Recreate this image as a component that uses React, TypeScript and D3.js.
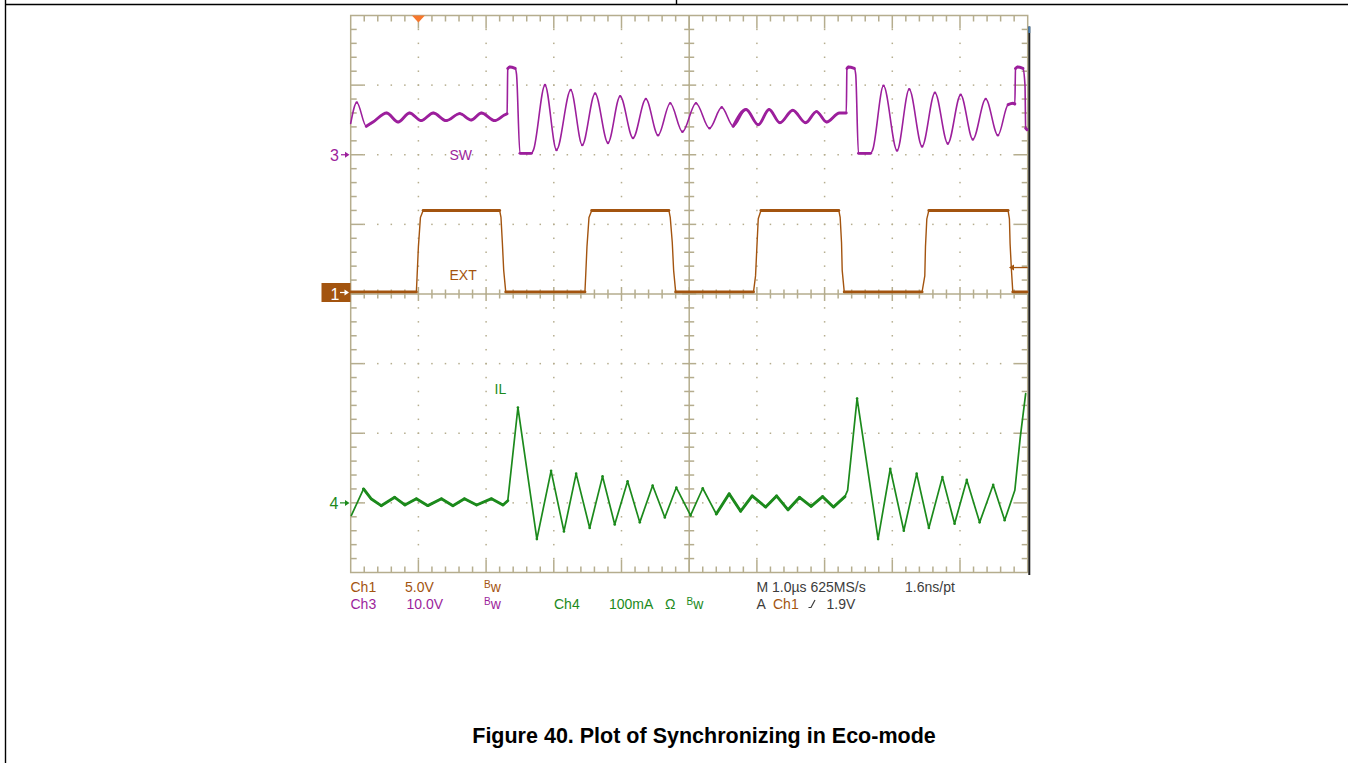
import React from 'react';
import * as d3 from 'd3';

// ---------- data (time in µs, values in channel units) ----------
// Ch3 SW node, volts (10 V/div, ground marker at +2 div)
const SW_TRACE: [number, number][] = [
  [0.00, 4.5], [0.09, 7.5], [0.23, 4.1], [0.33, 4.7], [0.53, 6.0], [0.70, 4.7], [0.87, 6.0],
  [1.04, 4.9], [1.22, 6.0], [1.41, 4.9], [1.61, 5.9], [1.78, 5.0], [1.93, 6.0], [2.13, 4.9],
  [2.27, 5.7], [2.31, 5.9], [2.32, 12.4], [2.35, 12.6], [2.43, 12.4], [2.45, 11.5], [2.50, 0.2],
  [2.67, 0.2], [2.70, 0.7], [2.87, 10.0], [3.04, 0.7], [3.25, 9.3], [3.42, 1.4], [3.61, 8.8],
  [3.80, 1.7], [3.98, 8.4], [4.17, 2.4], [4.36, 8.0], [4.54, 2.8], [4.72, 7.4], [4.90, 3.3],
  [5.10, 7.4], [5.30, 3.8], [5.48, 6.8], [5.65, 4.1], [5.84, 6.5], [6.02, 4.3], [6.18, 6.5],
  [6.34, 4.6], [6.53, 6.4], [6.72, 4.6], [6.88, 6.2], [7.03, 4.7], [7.22, 6.0], [7.32, 6.0],
  [7.33, 12.4], [7.35, 12.6], [7.44, 12.4], [7.46, 11.5], [7.50, 0.2], [7.68, 0.2], [7.71, 0.7],
  [7.87, 9.9], [8.07, 0.6], [8.25, 9.4], [8.44, 1.2], [8.63, 8.9], [8.82, 1.6], [9.01, 8.6],
  [9.19, 2.2], [9.38, 8.0], [9.56, 2.8], [9.71, 7.2], [9.78, 7.4], [9.81, 7.3], [9.82, 12.4],
  [9.85, 12.6], [9.93, 12.4], [9.96, 10.0], [9.97, 3.8], [9.99, 3.6],
];

// Ch1 EXT sync clock, volts (5 V/div, ground at centre)
const EXT_TRACE: [number, number][] = [
  [0.00, 0.15], [0.97, 0.15], [0.98, 1.2], [1.00, 3.4], [1.03, 5.5], [1.07, 6.0],
  [2.20, 6.0], [2.22, 5.5], [2.24, 3.7], [2.26, 1.7], [2.29, 0.15],
  [3.46, 0.15], [3.47, 1.2], [3.49, 3.4], [3.52, 5.5], [3.56, 6.0],
  [4.70, 6.0], [4.72, 5.5], [4.75, 3.7], [4.77, 1.7], [4.80, 0.15],
  [5.95, 0.15], [5.98, 1.3], [6.00, 3.4], [6.02, 5.4], [6.06, 6.0],
  [7.21, 6.0], [7.23, 5.5], [7.25, 3.7], [7.26, 1.7], [7.29, 0.15],
  [8.44, 0.15], [8.48, 1.3], [8.49, 3.4], [8.51, 5.4], [8.54, 6.0],
  [9.71, 6.0], [9.73, 5.4], [9.74, 3.6], [9.76, 1.7], [9.78, 0.15], [9.99, 0.15],
];

// Ch4 inductor current IL, mA (100 mA/div, ground marker at -3 div)
const IL_TRACE: [number, number][] = [
  [0.01, -18], [0.19, 20], [0.30, 6], [0.45, -4], [0.65, 8], [0.80, -3], [0.97, 6], [1.14, -4],
  [1.34, 6], [1.51, -4], [1.68, 6], [1.86, -3], [2.08, 6], [2.25, -3], [2.32, 3], [2.47, 137],
  [2.75, -52], [2.96, 46], [3.15, -41], [3.33, 42], [3.53, -36], [3.72, 38], [3.90, -31],
  [4.09, 31], [4.27, -28], [4.46, 25], [4.64, -21], [4.81, 22], [5.02, -18], [5.20, 21],
  [5.40, -16], [5.59, 13], [5.76, -12], [5.93, 10], [6.13, -6], [6.29, 10], [6.46, -10],
  [6.63, 8], [6.80, -5], [6.97, 9], [7.13, -6], [7.30, 9], [7.34, 18], [7.48, 150],
  [7.79, -52], [7.97, 49], [8.17, -40], [8.36, 42], [8.54, -36], [8.74, 37], [8.92, -30],
  [9.10, 33], [9.29, -28], [9.49, 26], [9.66, -25], [9.81, 18], [9.89, 94], [9.97, 157],
];

const TIME_DOMAIN_US: [number, number] = [0, 10];
const DIV_DOMAIN: [number, number] = [-4, 4];
const SW_DOMAIN_V: [number, number] = [-60, 20];
const EXT_DOMAIN_V: [number, number] = [-20, 20];
const IL_DOMAIN_MA: [number, number] = [-100, 700];

const TRIGGER_TIME_US = 1.0;
const TRIGGER_LEVEL_V = 1.9;

const TITLE = 'Figure 40. Plot of Synchronizing in Eco-mode';
const TRACE_LABELS = ['SW', 'EXT', 'IL'];
const CH_MARKERS = ['3', '1', '4'];
const ROW1 = ['Ch1', '5.0V'];
const ROW2 = ['Ch3', '10.0V', 'Ch4', '100mA', 'Ω'];
const TIMEBASE = ['M 1.0µs 625MS/s', '1.6ns/pt'];
const TRIG_TEXT = ['A', 'Ch1', '1.9V'];

const C = {
  grid: '#b5ad8e',
  sw: '#9c1f9c',
  ext: '#a3540f',
  il: '#1c8a1c',
  text: '#3c3c3c',
  trig: '#f7772c',
};

const FONT = "'Liberation Sans', Arial, sans-serif";

type Pt = [number, number];

function Trace({ pts, xs, ys, color, curve, thr, base }: {
  pts: Pt[]; xs: (v: number) => number; ys: (v: number) => number; color: string; curve: any; thr: number; base: number;
}) {
  const line = d3.line<Pt>().x(d => xs(d[0])).y(d => ys(d[1])).curve(curve);
  const runs: number[][] = [];
  let cur: number[] | null = null;
  for (let i = 0; i < pts.length - 1; i++) {
    const dx = xs(pts[i + 1][0]) - xs(pts[i][0]);
    const dy = ys(pts[i + 1][1]) - ys(pts[i][1]);
    const flat = Math.abs(dy) < thr * Math.abs(dx);
    if (flat) {
      if (!cur) { cur = [i]; runs.push(cur); }
      cur.push(i + 1);
    } else cur = null;
  }
  // local extrema get a small noisy blob, as on the scope display
  const extrema = pts.filter((p, i) => i > 0 && i < pts.length - 1 &&
    (p[1] - pts[i - 1][1]) * (pts[i + 1][1] - p[1]) < 0);
  return (
    <g fill="none" stroke={color} strokeLinejoin="round" strokeLinecap="round">
      <path d={line(pts) || ''} strokeWidth={base} />
      {runs.map((r, k) => (
        <path key={k} d={line(r.map(i => pts[i])) || ''} strokeWidth={2.9} />
      ))}
      {extrema.map((p, k) => (
        <circle key={`e${k}`} cx={xs(p[0])} cy={ys(p[1])} r={1.3} fill={color} stroke="none" />
      ))}
    </g>
  );
}

function Arrow({ x1, x2, y, color }: { x1: number; x2: number; y: number; color: string }) {
  return (
    <g>
      <line x1={x1} y1={y} x2={x2 - 3} y2={y} stroke={color} strokeWidth={1.2} />
      <path d={`M${x2},${y} L${x2 - 4.5},${y - 3} L${x2 - 4.5},${y + 3} Z`} fill={color} />
    </g>
  );
}

export default function App() {
  const L = 350.7, R = 1027.7, T = 15.5, B = 572.5;
  const x = d3.scaleLinear().domain(TIME_DOMAIN_US).range([L, R]);
  const yDiv = d3.scaleLinear().domain(DIV_DOMAIN).range([B, T]);
  const ySW = d3.scaleLinear().domain(SW_DOMAIN_V).range([B, T]);
  const yEXT = d3.scaleLinear().domain(EXT_DOMAIN_V).range([B, T]);
  const yIL = d3.scaleLinear().domain(IL_DOMAIN_MA).range([B, T]);

  const cx = x(5), cy = yDiv(0);
  const hMinor = d3.range(1, 50); // 0.2 div steps along time
  const vMinor = d3.range(1, 40); // 0.2 div steps along vertical

  const gridEls: React.ReactNode[] = [];
  hMinor.forEach(k => {
    const xx = x(k * 0.2);
    const major = k % 5 === 0;
    const len = major ? 13 : 6;
    gridEls.push(<line key={`tt${k}`} x1={xx} y1={T} x2={xx} y2={T + len} />);
    gridEls.push(<line key={`tb${k}`} x1={xx} y1={B} x2={xx} y2={B - len} />);
    const cl = major ? 7 : 4.5;
    gridEls.push(<line key={`tc${k}`} x1={xx} y1={cy - cl} x2={xx} y2={cy + cl} />);
  });
  vMinor.forEach(k => {
    const yy = yDiv(-4 + k * 0.2);
    const major = k % 5 === 0;
    const len = major ? 13 : 6;
    gridEls.push(<line key={`tl${k}`} x1={L} y1={yy} x2={L + len} y2={yy} />);
    gridEls.push(<line key={`tr${k}`} x1={R} y1={yy} x2={R - len} y2={yy} />);
    const cl = major ? 7 : 5;
    gridEls.push(<line key={`tv${k}`} x1={cx - cl} y1={yy} x2={cx + cl} y2={yy} />);
  });

  const dots: React.ReactNode[] = [];
  [1, 2, 3, 4, 6, 7, 8, 9].forEach(t => {
    vMinor.forEach(k => {
      const yy = yDiv(-4 + k * 0.2);
      dots.push(<rect key={`dv${t}-${k}`} x={x(t) - 0.75} y={yy - 0.75} width={1.5} height={1.5} />);
    });
  });
  [-3, -2, -1, 1, 2, 3].forEach(d => {
    hMinor.forEach(k => {
      const xx = x(k * 0.2);
      dots.push(<rect key={`dh${d}-${k}`} x={xx - 0.75} y={yDiv(d) - 0.75} width={1.5} height={1.5} />);
    });
  });

  const swGround = ySW(0), extGround = yEXT(0), ilGround = yIL(0);
  const trigX = x(TRIGGER_TIME_US);
  const trigY = yEXT(TRIGGER_LEVEL_V);

  const r1 = 591.5, r2 = 608.5;

  return (
    <svg width={1348} height={763} style={{ position: 'absolute', left: 0, top: 0, background: '#fff' }}
      fontFamily={FONT}>
      {/* document table frame */}
      <g stroke="#000" strokeWidth={1.4}>
        <line x1={5} y1={4.5} x2={1348} y2={4.5} />
        <line x1={5.5} y1={0} x2={5.5} y2={763} />
        <line x1={676.5} y1={0} x2={676.5} y2={4.5} />
      </g>

      {/* graticule */}
      <g fill={C.grid}>{dots}</g>
      <g stroke={C.grid} strokeWidth={1.5}>
        <rect x={L} y={T} width={R - L} height={B - T} fill="none" />
        <line x1={cx} y1={T} x2={cx} y2={B} />
        <line x1={L} y1={cy} x2={R} y2={cy} />
        {gridEls}
      </g>
      <line x1={R + 1.6} y1={26.5} x2={R + 1.6} y2={575} stroke="#1e1e1e" strokeWidth={2} />
      <line x1={R + 1.6} y1={26.5} x2={R + 1.6} y2={33} stroke="#4a7fb0" strokeWidth={2} />

      {/* trigger position */}
      <path d={`M${trigX - 6.5},${T} L${trigX + 6.5},${T} L${trigX},${T + 7} Z`} fill={C.trig} />

      {/* traces */}
      <Trace pts={SW_TRACE} xs={x} ys={ySW} color={C.sw} curve={d3.curveMonotoneX} thr={1.6} base={1.6} />
      <Trace pts={EXT_TRACE} xs={x} ys={yEXT} color={C.ext} curve={d3.curveLinear} thr={1.0} base={1.4} />
      <Trace pts={IL_TRACE} xs={x} ys={yIL} color={C.il} curve={d3.curveLinear} thr={1.8} base={1.7} />

      {/* trigger level marker */}
      <g>
        <line x1={1012} y1={trigY} x2={R} y2={trigY} stroke={C.ext} strokeWidth={1.3} />
        <path d={`M${1009},${trigY} L${1014},${trigY - 3} L${1014},${trigY + 3} Z`} fill={C.ext} />
      </g>

      {/* channel ground markers */}
      <text x={330} y={swGround + 6} fontSize={16} fill={C.sw}>{CH_MARKERS[0]}</text>
      <Arrow x1={341} x2={349.5} y={swGround} color={C.sw} />
      <rect x={321.5} y={extGround - 11} width={29} height={19} fill={C.ext} />
      <text x={330.5} y={extGround + 6} fontSize={16} fill="#fff">{CH_MARKERS[1]}</text>
      <Arrow x1={340} x2={349} y={extGround - 1.5} color="#fff" />
      <text x={329.5} y={ilGround + 6.5} fontSize={16} fill={C.il}>{CH_MARKERS[2]}</text>
      <Arrow x1={340} x2={349.5} y={ilGround} color={C.il} />

      {/* trace labels */}
      <text x={449.5} y={160} fontSize={14} fill={C.sw}>{TRACE_LABELS[0]}</text>
      <text x={449.5} y={279.5} fontSize={14} fill={C.ext}>{TRACE_LABELS[1]}</text>
      <text x={494.5} y={394} fontSize={14} fill={C.il}>{TRACE_LABELS[2]}</text>

      {/* settings readout */}
      <g fontSize={14}>
        <text x={350.5} y={r1} fill={C.ext}>{ROW1[0]}</text>
        <text x={405} y={r1} fill={C.ext}>{ROW1[1]}</text>
        <text x={484} y={r1} fill={C.ext}><tspan fontSize={10} dy={-4}>B</tspan><tspan dy={4}>w</tspan></text>

        <text x={350.5} y={r2} fill={C.sw}>{ROW2[0]}</text>
        <text x={406.5} y={r2} fill={C.sw}>{ROW2[1]}</text>
        <text x={484} y={r2} fill={C.sw}><tspan fontSize={10} dy={-4}>B</tspan><tspan dy={4}>w</tspan></text>
        <text x={554} y={r2} fill={C.il}>{ROW2[2]}</text>
        <text x={609} y={r2} fill={C.il}>{ROW2[3]}</text>
        <text x={665} y={r2} fill={C.il}>{ROW2[4]}</text>
        <text x={686.5} y={r2} fill={C.il}><tspan fontSize={10} dy={-4}>B</tspan><tspan dy={4}>w</tspan></text>

        <text x={756.5} y={r1} fill={C.text}>{TIMEBASE[0]}</text>
        <text x={905} y={r1} fill={C.text}>{TIMEBASE[1]}</text>
        <text x={756.5} y={r2} fill={C.text}>{TRIG_TEXT[0]}</text>
        <text x={773} y={r2} fill={C.ext}>{TRIG_TEXT[1]}</text>
        <path d={`M808.5,${r2 - 1} h2.5 l4,-7.5`} stroke={C.text} strokeWidth={1.2} fill="none" />
        <text x={826.5} y={r2} fill={C.text}>{TRIG_TEXT[2]}</text>
      </g>

      {/* caption */}
      <text x={704} y={743} textAnchor="middle" fontSize={21.5} fontWeight="bold" fill="#000">{TITLE}</text>
    </svg>
  );
}
